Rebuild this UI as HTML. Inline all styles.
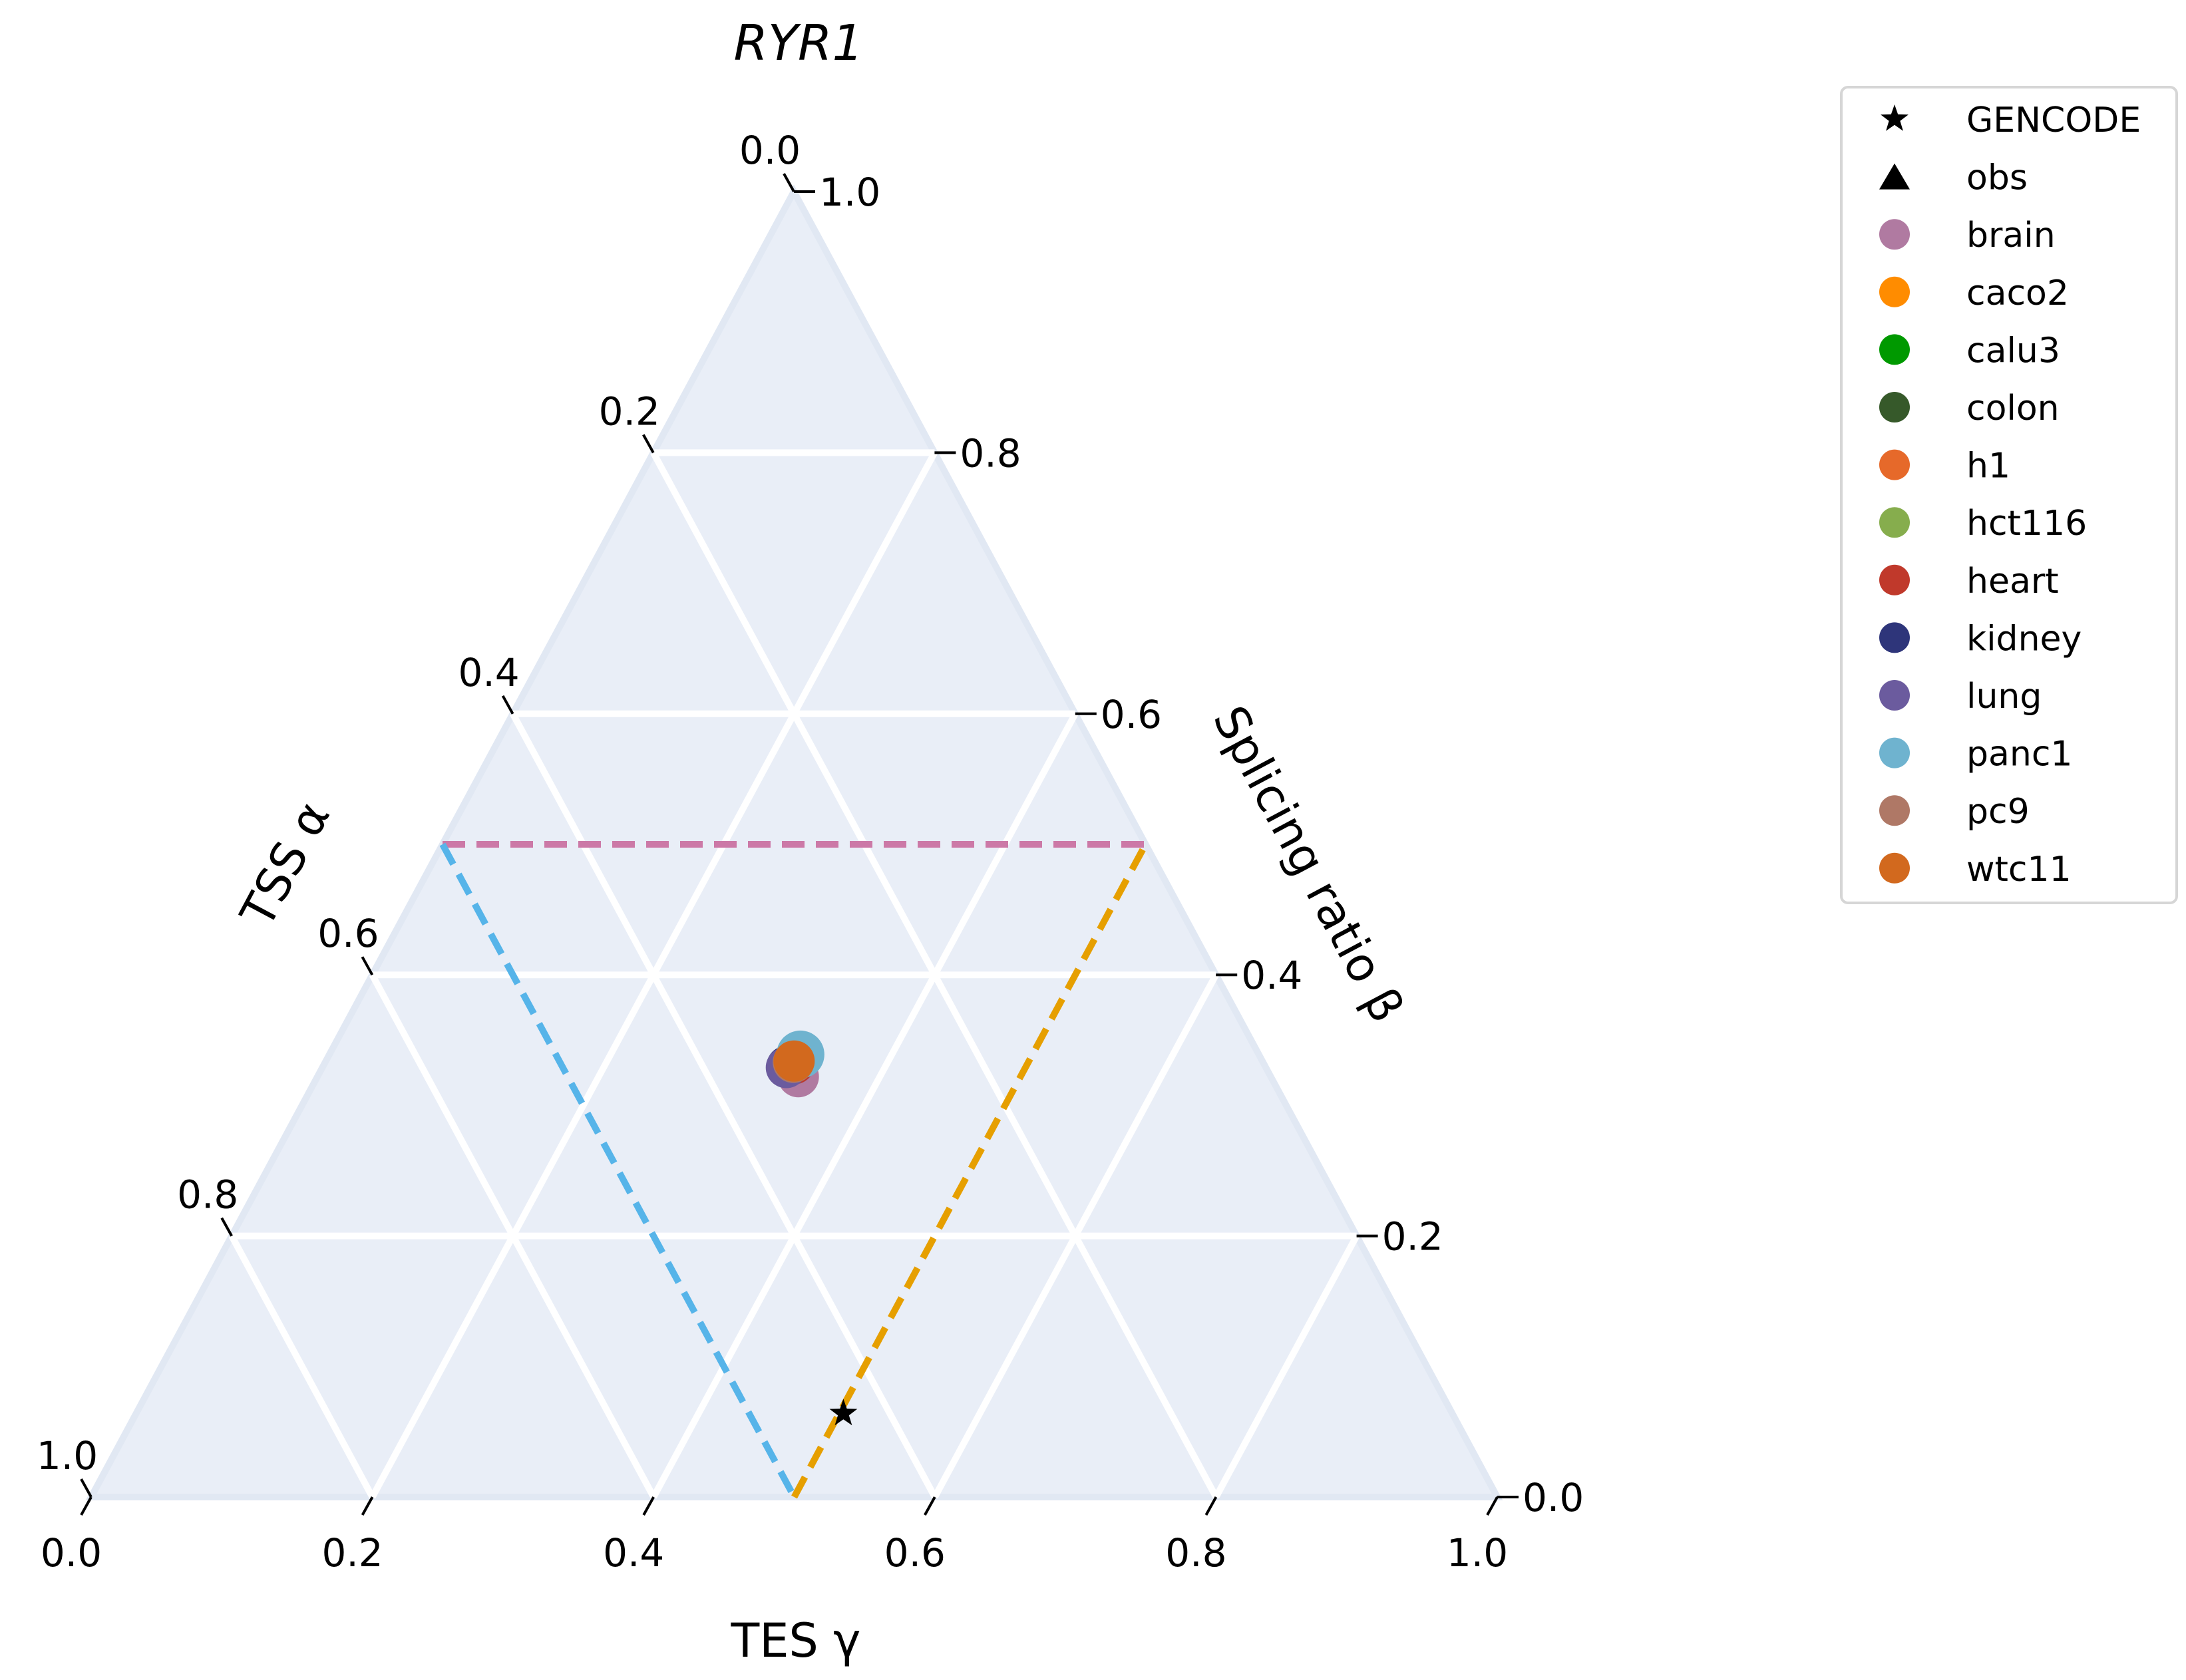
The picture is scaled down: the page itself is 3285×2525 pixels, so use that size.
<!DOCTYPE html>
<html><head><meta charset="utf-8"><style>
html,body{margin:0;padding:0;background:#fff}
svg{display:block}
text{font-family:"DejaVu Sans","Liberation Sans",sans-serif;fill:#000}
</style></head><body>
<svg id="chart" width="3285" height="2525" viewBox="0 0 3285 2525" xmlns="http://www.w3.org/2000/svg">
<text x="1200" y="90" font-size="74" font-style="italic" text-anchor="middle">RYR1</text>
<g id="plot"></g>
<text x="1196" y="2490" font-size="70" text-anchor="middle">TES γ</text>
<text x="0" y="0" font-size="70" text-anchor="middle" transform="translate(450,1310) rotate(-62)">TSS α</text>
<text x="0" y="0" font-size="70" text-anchor="middle" transform="translate(1945,1310) rotate(62)">Splicing ratio β</text>
<g id="legend">
<rect x="2767" y="131" width="504" height="1226" rx="10" fill="#fff" stroke="#d6d6d6" stroke-width="4"/>
</g>
</svg>
<script>
const tissues = ["brain","caco2","calu3","colon","h1","hct116","heart","kidney","lung","panc1","pc9","wtc11"];
const colors = ["#b07aa1","#ff8c00","#009900","#36592a","#e6692a","#86ad4d","#c0392b","#2e357a","#6b5b9e","#6fb3cf","#af7866","#d2691e"];
const alphaVals = [0.336,0.333,0.333,0.334,0.334,0.333,0.334,0.340,0.341,0.326,0.334,0.333];
const betaVals  = [0.322,0.333,0.333,0.332,0.333,0.333,0.332,0.330,0.329,0.339,0.333,0.334];
const gammaVals = [0.342,0.334,0.334,0.334,0.333,0.334,0.334,0.330,0.330,0.335,0.333,0.333];
const gencode = [0.433,0.064,0.503];
const tickVals = [0.0,0.2,0.4,0.6,0.8,1.0];
const tickLabels = ["0.0","0.2","0.4","0.6","0.8","1.0"];
const legendLabels = ["GENCODE","obs","brain","caco2","calu3","colon","h1","hct116","heart","kidney","lung","panc1","pc9","wtc11"];

const NS="http://www.w3.org/2000/svg";
const TOP=[1193,288], BL=[137,2250], BR=[2250,2250];
function P(a,b,g){const s=a+b+g;a/=s;b/=s;g/=s;return [a*BL[0]+b*TOP[0]+g*BR[0], a*BL[1]+b*TOP[1]+g*BR[1]];}
function mk(tag,attrs,parent){const e=document.createElementNS(NS,tag);for(const k in attrs)e.setAttribute(k,attrs[k]);parent.appendChild(e);return e;}
const plot=document.getElementById('plot');

const tri=mk('polygon',{points:[TOP,BL,BR].map(p=>p.join(',')).join(' '),fill:'#e9eef7',stroke:'#e1e8f3','stroke-width':10,'stroke-linejoin':'miter'},plot);



function line(p1,p2,attrs,name){const l=mk('line',Object.assign({x1:p1[0],y1:p1[1],x2:p2[0],y2:p2[1]},attrs),plot);


return l;}
[0.2,0.4,0.6,0.8].forEach(v=>{
  line(P(1-v,v,0),P(0,v,1-v),{stroke:'#fff','stroke-width':10},'grid-line-beta');
  line(P(v,1-v,0),P(v,0,1-v),{stroke:'#fff','stroke-width':10},'grid-line-alpha');
  line(P(0,1-v,v),P(1-v,0,v),{stroke:'#fff','stroke-width':10},'grid-line-gamma');
});

tickVals.forEach((v,i)=>{
  let p=P(v,1-v,0);
  line(p,[p[0]-15,p[1]-27],{stroke:'#000','stroke-width':4},'alpha-tick');
  let t=mk('text',{x:p[0]-36,y:p[1]-42,'font-size':58,'text-anchor':'middle'},plot);t.textContent=tickLabels[i];
  
  
  p=P(0,v,1-v);
  line(p,[p[0]+32,p[1]],{stroke:'#000','stroke-width':4},'beta-tick');
  t=mk('text',{x:p[0]+38,y:p[1]+21,'font-size':58,'text-anchor':'start'},plot);t.textContent=tickLabels[i];
  
  
  p=P(1-v,0,v);
  line(p,[p[0]-15,p[1]+27],{stroke:'#000','stroke-width':4},'gamma-tick');
  t=mk('text',{x:p[0]-30,y:p[1]+104,'font-size':58,'text-anchor':'middle'},plot);t.textContent=tickLabels[i];
  
  
});

line(P(0.5,0.5,0),P(0,0.5,0.5),{stroke:'#cc79a7','stroke-width':10,'stroke-dasharray':'34,17'},'beta-half-line');
line(P(0.5,0.5,0),P(0.5,0,0.5),{stroke:'#56b4e9','stroke-width':10,'stroke-dasharray':'34,17'},'alpha-half-line');
line(P(0.5,0,0.5),P(0,0.5,0.5),{stroke:'#e69f00','stroke-width':10,'stroke-dasharray':'34,17'},'gamma-half-line');

function starPath(cx,cy,R){const r=R*0.4;let s='';for(let k=0;k<10;k++){const rr=k%2?r:R;const a=-Math.PI/2+k*Math.PI/5;s+=(k?'L':'M')+(cx+rr*Math.cos(a)).toFixed(1)+','+(cy+rr*Math.sin(a)).toFixed(1);}return s+'Z';}

tissues.forEach((n,i)=>{
  const p=P(alphaVals[i],betaVals[i],gammaVals[i]);
  const c=mk('circle',{cx:p[0],cy:p[1],r:31,fill:colors[i]},plot);
  if(n==='panc1'){c.setAttribute('r',36);}
  
  
});
const gp=P(gencode[0],gencode[1],gencode[2]);
const st=mk('path',{d:starPath(gp[0],gp[1],22),fill:'#000'},plot);



const leg=document.getElementById('legend');
legendLabels.forEach((lab,i)=>{
  const y=179+86.6*i, x=2847;
  let m;
  if(i===0){m=mk('path',{d:starPath(x,y,22),fill:'#000'},leg);}
  else if(i===1){m=mk('polygon',{points:`${x},${y-20} ${x+23},${y+19} ${x-23},${y+19}`,fill:'#000'},leg);}
  else {m=mk('circle',{cx:x,cy:y,r:23,fill:colors[i-2]},leg);}
  
  
  const t=mk('text',{x:2955,y:y+19,'font-size':52},leg);t.textContent=lab;
  
  
});
</script>
</body></html>
